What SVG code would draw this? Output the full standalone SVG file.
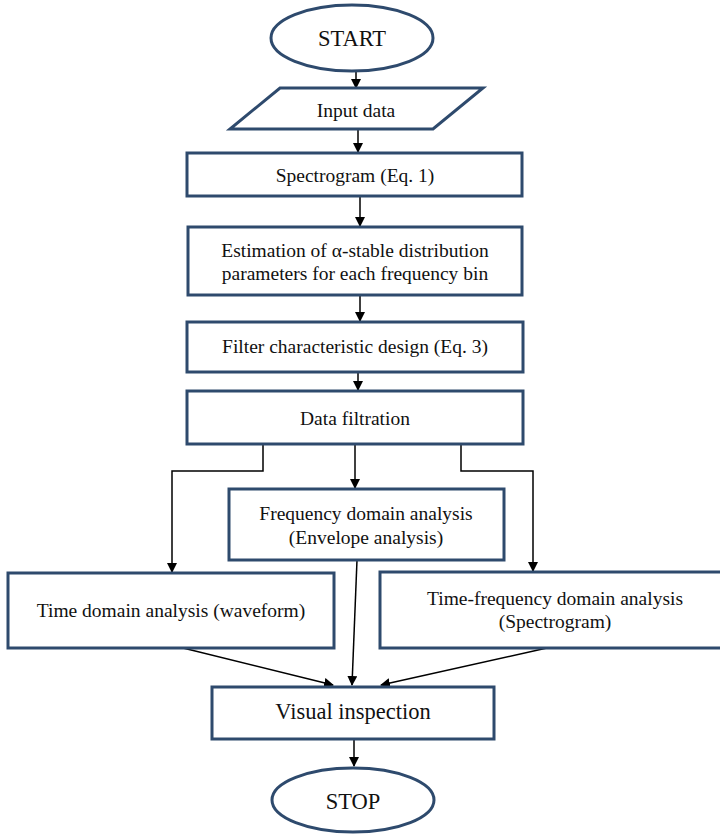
<svg xmlns="http://www.w3.org/2000/svg" width="720" height="834" viewBox="0 0 720 834">
<defs>
<marker id="ah" markerWidth="10" markerHeight="10" refX="9" refY="5" orient="auto" markerUnits="userSpaceOnUse"><path d="M0,0 L10,5 L0,10 Z" fill="#000"/></marker>
<style>
.n{fill:#fff;stroke:#2E4A6D;stroke-width:3}
.t{font-family:"Liberation Serif","Times New Roman",serif;font-size:19.5px;fill:#111;text-anchor:middle;dominant-baseline:central}
.b{font-size:22.5px}
.c{fill:none;stroke:#000;stroke-width:1.5;marker-end:url(#ah)}
</style>
</defs>
<rect width="720" height="834" fill="#fff"/>
<g id="connectors">
<path class="c" d="M356,71 L356,88"/>
<path class="c" d="M358,130 L358,152"/>
<path class="c" d="M360,196 L360,226"/>
<path class="c" d="M360,295 L360,321"/>
<path class="c" d="M358,372 L358,390"/>
<path class="c" d="M263,444 L263,471 L172,471 L172,572"/>
<path class="c" d="M355,444 L355,488"/>
<path class="c" d="M461,444 L461,471 L533,471 L533,571"/>
<path class="c" d="M183,648 L333,685"/>
<path class="c" d="M357,560 L352,685"/>
<path class="c" d="M547,648 L381,685"/>
<path class="c" d="M354,739 L354,766"/>
</g>
<g id="start"><ellipse class="n" cx="352" cy="38" rx="81" ry="33"/><text class="t b" x="352" y="38">START</text></g>
<g id="input"><polygon class="n" points="280,88 483,88 433,129 230,129"/><text class="t" x="356" y="110">Input data</text></g>
<g id="spectrogram"><rect class="n" x="187" y="153" width="335" height="43"/><text class="t" x="355" y="175">Spectrogram (Eq. 1)</text></g>
<g id="estimation"><rect class="n" x="188" y="227" width="334" height="68"/><text class="t" x="355" y="250">Estimation of α-stable distribution</text><text class="t" x="355" y="273">parameters for each frequency bin</text></g>
<g id="filter"><rect class="n" x="187" y="322" width="336" height="50"/><text class="t" x="355" y="346">Filter characteristic design (Eq. 3)</text></g>
<g id="filtration"><rect class="n" x="187" y="391" width="336" height="53"/><text class="t" x="355" y="418">Data filtration</text></g>
<g id="freq"><rect class="n" x="229" y="489" width="275" height="71"/><text class="t" x="366" y="513">Frequency domain analysis</text><text class="t" x="366" y="537">(Envelope analysis)</text></g>
<g id="time"><rect class="n" x="8" y="573" width="326" height="75"/><text class="t" x="171" y="610">Time domain analysis (waveform)</text></g>
<g id="timefreq"><rect class="n" x="380" y="572" width="344" height="76"/><text class="t" x="555" y="598">Time-frequency domain analysis</text><text class="t" x="555" y="621">(Spectrogram)</text></g>
<g id="visual"><rect class="n" x="212" y="687" width="282" height="52"/><text class="t b" x="353" y="711">Visual inspection</text></g>
<g id="stop"><ellipse class="n" cx="353" cy="800" rx="81" ry="32"/><text class="t b" x="353" y="801">STOP</text></g>
</svg>
